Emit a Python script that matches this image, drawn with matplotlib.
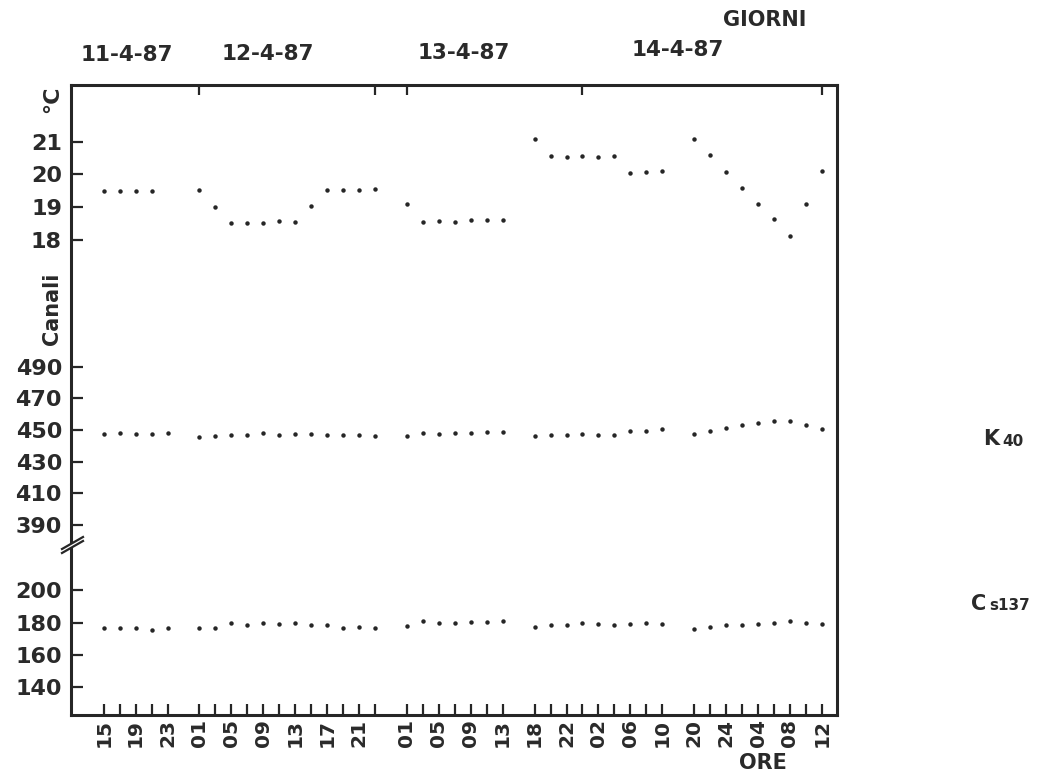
import numpy as np
import matplotlib
matplotlib.use("Agg")
import matplotlib.pyplot as plt
from matplotlib.lines import Line2D
from matplotlib.patches import Polygon

# ---------------- data ----------------
days = ["11-4-87", "12-4-87", "13-4-87", "14-4-87"]

hours_g1 = [15, 17, 19, 21, 23]
hours_g2 = [1, 3, 5, 7, 9, 11, 13, 15, 17, 19, 21, 23]
hours_g3 = [1, 3, 5, 7, 9, 11, 13]
hours_g4 = [18, 20, 22, 24, 2, 4, 6, 8, 10]
hours_g5 = [20, 22, 24, 2, 4, 6, 8, 10, 12]

temp_g1 = [19.49, 19.49, 19.48, 19.50, np.nan]
temp_g2 = [19.51, 19.00, 18.52, 18.51, 18.52, 18.56, 18.55, 19.04, 19.53, 19.52, 19.51, 19.55]
temp_g3 = [19.08, 18.54, 18.56, 18.55, 18.60, 18.60, 18.60]
temp_g4 = [21.07, 20.55, 20.54, 20.56, 20.54, 20.55, 20.05, 20.07, 20.09]
temp_g5 = [21.07, 20.58, 20.07, 19.57, 19.10, 18.62, 18.10, 19.08, 20.10]

k40_g1 = [447.8, 447.9, 447.6, 447.8, 448.2]
k40_g2 = [445.9, 446.4, 447.1, 447.2, 447.9, 447.2, 447.7, 447.6, 446.6, 446.9, 446.8, 446.1]
k40_g3 = [446.0, 448.2, 447.7, 448.2, 448.3, 448.8, 448.7]
k40_g4 = [446.0, 447.1, 447.2, 447.5, 447.2, 447.1, 449.2, 449.1, 450.7]
k40_g5 = [447.4, 449.5, 451.2, 453.3, 454.7, 455.6, 455.5, 453.3, 450.4]

cs_g1 = [176.4, 176.6, 176.5, 175.7, 176.9]
cs_g2 = [176.8, 176.7, 179.7, 178.8, 179.5, 179.2, 179.9, 178.5, 178.2, 176.9, 177.1, 176.6]
cs_g3 = [178.0, 180.8, 179.9, 179.8, 180.1, 180.2, 180.9]
cs_g4 = [177.4, 178.5, 178.8, 179.5, 179.1, 178.5, 179.4, 179.7, 179.1]
cs_g5 = [176.0, 177.4, 178.5, 178.4, 178.9, 179.6, 180.7, 179.6, 179.3]

temp_ticks = [18, 19, 20, 21]
k40_ticks = [390, 410, 430, 450, 470, 490]
cs_ticks = [140, 160, 180, 200]

# ---------------- layout helpers ----------------
W, H = 1049, 776
DY = -2.0

def fx(px):
    return px / W

def fy(py):
    return 1 - (py + DY) / H

hour_groups = [hours_g1, hours_g2, hours_g3, hours_g4, hours_g5]
temp_groups = [temp_g1, temp_g2, temp_g3, temp_g4, temp_g5]
k40_groups = [k40_g1, k40_g2, k40_g3, k40_g4, k40_g5]
cs_groups = [cs_g1, cs_g2, cs_g3, cs_g4, cs_g5]

group_pos = []
start = 0
for g in hour_groups:
    group_pos.append(list(range(start, start + len(g))))
    start += len(g) + 1

all_pos, all_lbl = [], []
for gp, g in zip(group_pos, hour_groups):
    for i, (p, h) in enumerate(zip(gp, g)):
        all_pos.append(p)
        all_lbl.append("%02d" % h if i % 2 == 0 else "")

giorni_ticks = [group_pos[1][0], group_pos[1][-1], group_pos[2][0],
                group_pos[3][hours_g4.index(24)], group_pos[4][-1]]

INK = "#262626"
TXT = "#2a2a2a"
FONT = "DejaVu Sans"
plt.rcParams["font.family"] = [FONT]
plt.rcParams["font.weight"] = "bold"

fig = plt.figure(figsize=(W / 100, H / 100), dpi=100)
fig.patch.set_facecolor("white")

# frame in reference pixels
L_px, R_px, T_px, B_px = 71.0, 837.0, 86.7, 716.7
rect = [fx(L_px), fy(B_px), fx(R_px) - fx(L_px), fy(T_px) - fy(B_px)]
xlim = (-2.05, 45.95)

ax = fig.add_axes(rect)
ax.set_xlim(*xlim)
ax.set_ylim(0, 1)
for s in ax.spines.values():
    s.set_linewidth(2.2)
    s.set_color(INK)
ax.set_yticks([])
ax.set_xticks(all_pos)
ax.set_xticklabels(all_lbl, rotation=90, fontsize=14.5, fontweight="bold",
                   color=TXT, va="top", ha="center")
ax.tick_params(axis="x", direction="in", length=8, width=1.6,
               color=INK, bottom=True, top=False, pad=3)

axt = ax.twiny()
axt.set_xlim(*xlim)
axt.set_xticks(giorni_ticks)
axt.set_xticklabels([])
axt.tick_params(axis="x", direction="in", length=7.5, width=1.6, color=INK)
for s in axt.spines.values():
    s.set_visible(False)


def sub_axes(a, b, c, ticks, values_groups):
    """mapping: pixel_y = a - b*(v - c)"""
    sa = fig.add_axes(rect)
    sa.patch.set_visible(False)
    for s in sa.spines.values():
        s.set_visible(False)
    sa.set_xlim(*xlim)
    sa.set_xticks([])
    vb = c + (a - B_px) / b
    vt = c + (a - T_px) / b
    sa.set_ylim(vb, vt)
    sa.set_yticks(ticks)
    sa.set_yticklabels([str(t) for t in ticks], fontsize=16, fontweight="bold",
                       color=TXT)
    sa.tick_params(axis="y", direction="in", length=8.5, width=1.6, color=INK,
                   pad=6.5)
    for gp, vals in zip(group_pos, values_groups):
        sa.plot(gp, vals, linestyle="none", marker="o", markersize=3.2,
                color=INK, markeredgewidth=0)
    return sa

sub_axes(192.575, 32.63, 19.5, temp_ticks, temp_groups)
sub_axes(447.9, 1.583, 440.0, k40_ticks, k40_groups)
sub_axes(640.75, 1.619, 170.0, cs_ticks, cs_groups)

# axis break mark on left spine
yb = 549.0
gap = Polygon([[fx(62), fy(yb + 6)], [fx(82), fy(yb - 6)],
               [fx(82), fy(yb - 10)], [fx(62), fy(yb + 2)]],
              closed=True, transform=fig.transFigure, facecolor="white",
              edgecolor="none", zorder=10)
fig.add_artist(gap)
for off in (6, 2):
    fig.add_artist(Line2D([fx(62), fx(83)], [fy(yb + off), fy(yb + off - 12)],
                          transform=fig.transFigure, color=INK, lw=1.6,
                          zorder=11))

# texts
tk = dict(fontweight="bold", color=TXT, family=FONT)
date_x = [126.5, 267.6, 464.0, 677.6]
date_y = [57, 56, 55, 52]
for d, x, y in zip(days, date_x, date_y):
    fig.text(fx(x), fy(y), d, ha="center", va="center", fontsize=15.5, **tk)
fig.text(fx(765), fy(22), "GIORNI", ha="center", va="center", fontsize=15, **tk)
fig.text(fx(763), fy(765), "ORE", ha="center", va="center", fontsize=15, **tk)
fig.text(fx(52), fy(101), "°C", ha="center", va="center", rotation=90,
         fontsize=16, **tk)
fig.text(fx(52), fy(311), "Canali", ha="center", va="center", rotation=90,
         fontsize=15, **tk)
fig.text(fx(983), fy(441), "K", ha="left", va="center", fontsize=15, **tk)
fig.text(fx(1002), fy(443), "40", ha="left", va="center", fontsize=11, **tk)
fig.text(fx(971), fy(606), "C", ha="left", va="center", fontsize=15, **tk)
fig.text(fx(989), fy(608), "s137", ha="left", va="center", fontsize=11, **tk)

fig.savefig("out.png", dpi=100, facecolor="white")
